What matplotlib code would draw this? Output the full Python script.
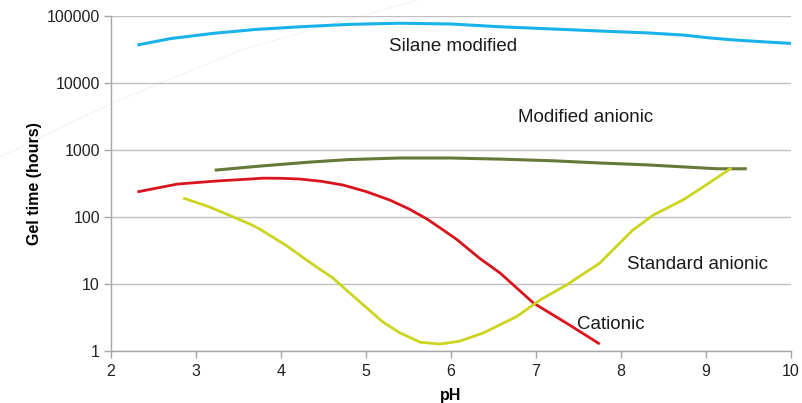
import matplotlib
import matplotlib.pyplot as plt
from matplotlib.lines import Line2D
from matplotlib.ticker import FixedLocator, FixedFormatter

matplotlib.use("Agg")
plt.rcParams["font.family"] = ["Liberation Sans", "DejaVu Sans"]

# values (pH vs gel time in hours)
silane_ph = [2.31, 2.7, 3.2, 3.7, 4.22, 4.8, 5.4, 6.0, 6.58, 7.2, 7.75, 8.3, 8.73, 9.05, 9.32, 9.7, 10.0]
silane_hours = [36900, 46000, 55000, 63000, 69000, 75000, 78000, 76000, 69000, 64000, 59700, 56000, 52000, 47000, 44000, 41000, 39000]

modified_ph = [3.22, 3.75, 4.34, 4.8, 5.4, 5.99, 6.6, 7.2, 7.75, 8.3, 8.73, 9.13, 9.48]
modified_hours = [500, 575, 660, 720, 760, 760, 730, 690, 640, 600, 560, 525, 525]

cationic_ph = [2.31, 2.78, 3.25, 3.64, 3.79, 4.0, 4.22, 4.48, 4.73, 5.0, 5.28, 5.5, 5.72, 5.9,
               6.07, 6.34, 6.58, 6.97, 7.36, 7.75]
cationic_hours = [237, 310, 345, 369, 380, 378, 369, 340, 300, 240, 179, 133, 93, 65,
                  46, 24, 14.5, 5.2, 2.6, 1.27]

standard_ph = [2.85, 3.16, 3.44, 3.64, 3.75, 4.07, 4.34, 4.61, 4.8, 5.0, 5.2, 5.4, 5.64, 5.87, 6.1,
               6.38, 6.77, 7.05, 7.36, 7.75, 8.14, 8.38, 8.73, 9.0, 9.3]
standard_hours = [192, 141, 100, 78, 66, 37, 21, 12.3, 7.5, 4.5, 2.7, 1.86, 1.35, 1.27, 1.4,
                  1.86, 3.25, 5.8, 9.7, 20.5, 64, 107, 180, 300, 540]

series_labels = ["Silane modified", "Modified anionic", "Standard anionic", "Cationic"]
label_ph = [6.02, 7.58, 8.9, 7.88]
label_hours = [34500, 3100, 19.5, 2.5]

y_ticks = [1, 10, 100, 1000, 10000, 100000]
x_ticks = [2, 3, 4, 5, 6, 7, 8, 9, 10]

fig = plt.figure(figsize=(8.03, 4.03), dpi=100)

# faint diagonal stroke visible in the background of the original image
fig.add_artist(Line2D([0.0, 0.14, 0.3, 0.52], [1 - 157 / 403, 1 - 103 / 403, 1 - 50 / 403, 1.0],
                      transform=fig.transFigure, color="#F5F5F5", lw=1.0, zorder=0))

ax = fig.add_axes([111 / 803, 1 - 351 / 403, 680 / 803, 335 / 403])
ax.patch.set_alpha(0)

ax.plot(silane_ph, silane_hours, color="#19B2EA", lw=2.2, solid_capstyle="butt")
ax.plot(modified_ph, modified_hours, color="#66793A", lw=2.2, solid_capstyle="butt")
ax.plot(cationic_ph, cationic_hours, color="#D9141C", lw=2.0, solid_capstyle="butt")
ax.plot(standard_ph, standard_hours, color="#CCD41E", lw=2.0, solid_capstyle="butt")

ax.set_yscale("log")
ax.set_xlim(2, 10)
ax.set_ylim(1, 100000)
ax.yaxis.set_major_locator(FixedLocator(y_ticks))
ax.yaxis.set_major_formatter(FixedFormatter([str(v) for v in y_ticks]))
ax.yaxis.set_minor_locator(FixedLocator([]))
ax.set_xticks(x_ticks)
ax.set_xticklabels([str(v) for v in x_ticks])

ax.grid(axis="y", color="#C0C0C0", lw=1.0)
ax.set_axisbelow(True)
for side in ["top", "right"]:
    ax.spines[side].set_visible(False)
for side in ["left", "bottom"]:
    ax.spines[side].set_color("#A6A6A6")
    ax.spines[side].set_linewidth(1.0)
ax.tick_params(axis="both", colors="#A6A6A6", length=5, width=1.0, labelsize=11.5,
               labelcolor="#222222")
ax.tick_params(axis="x", pad=4)
ax.tick_params(axis="y", pad=3)

ax.set_xlabel("pH", fontsize=11.5, fontweight="bold", labelpad=7)
ax.set_ylabel("Gel time (hours)", fontsize=11.5, fontweight="bold", labelpad=3)

for text, px, hours in zip(series_labels, label_ph, label_hours):
    ax.text(px, hours, text, fontsize=13.5, ha="center", va="center", color="#1a1a1a")

plt.savefig("out.png", dpi=100)
